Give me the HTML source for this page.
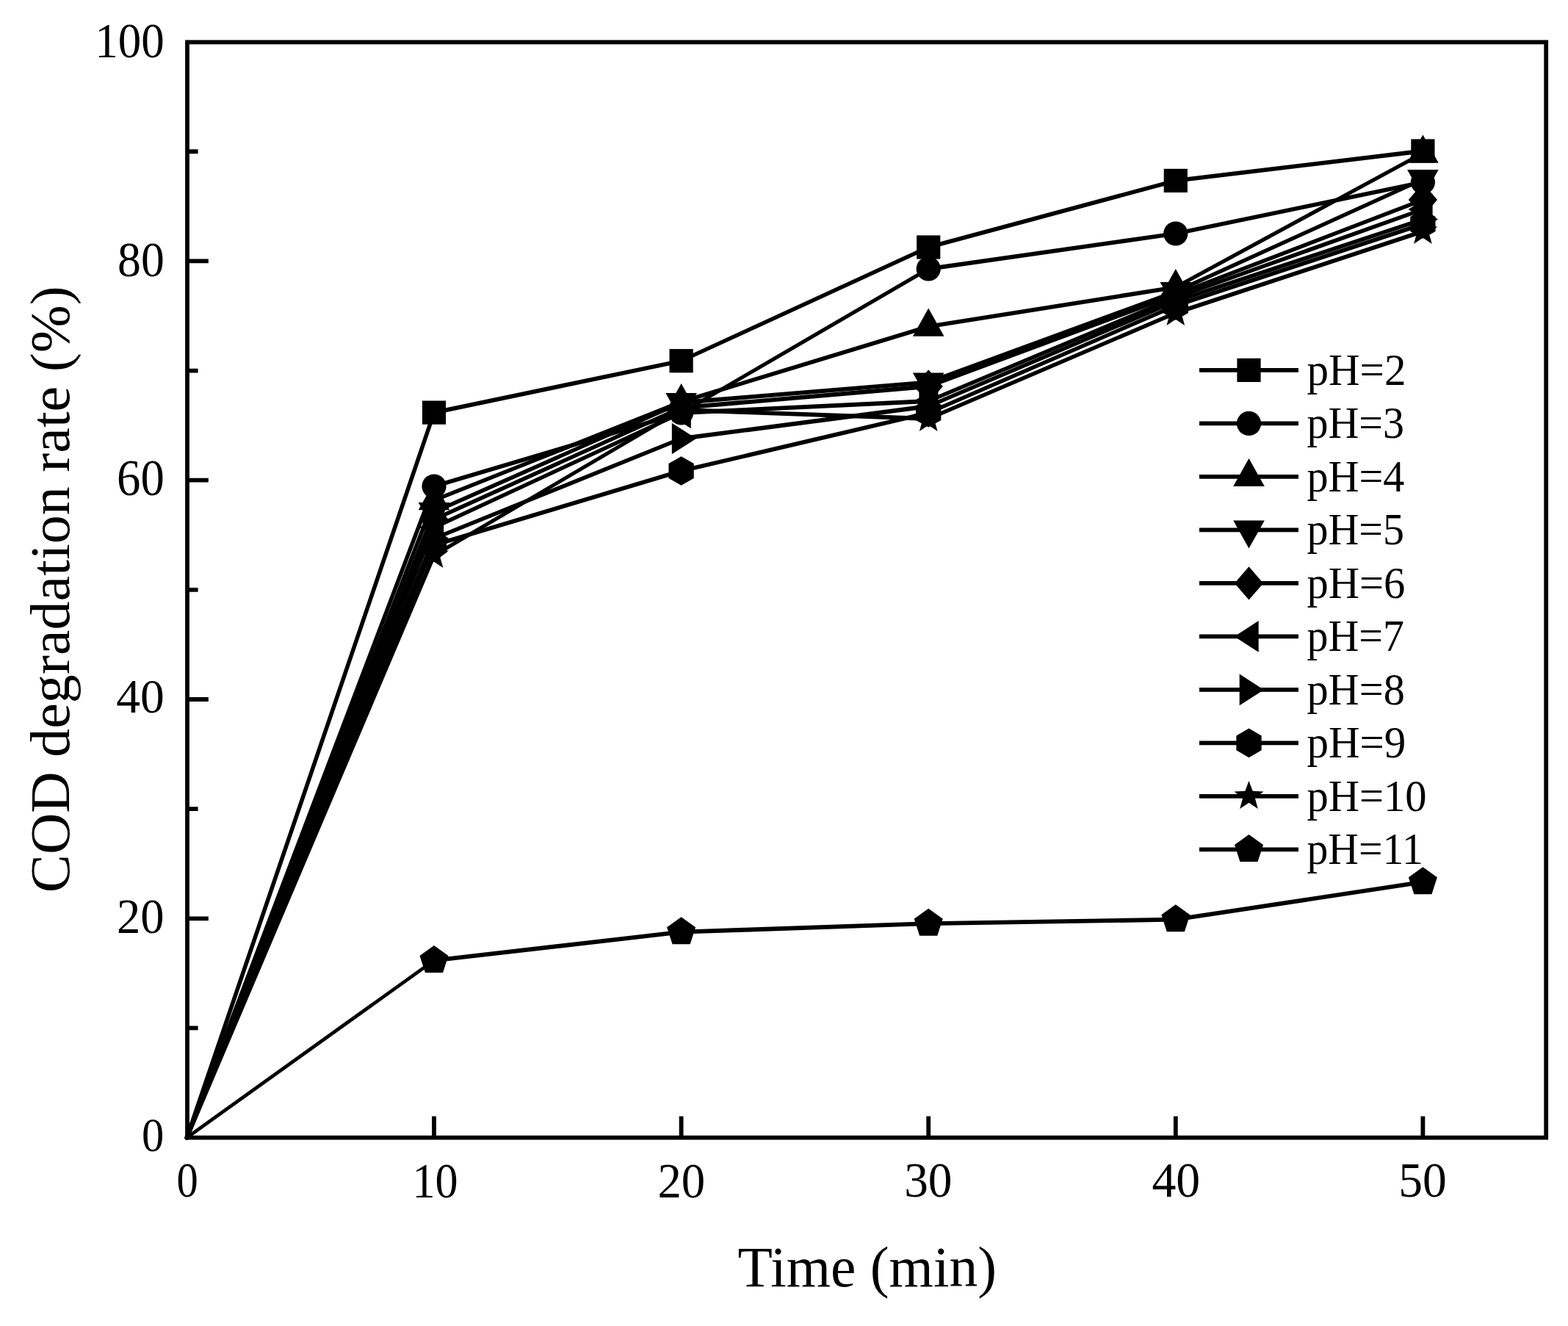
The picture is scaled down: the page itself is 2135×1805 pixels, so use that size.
<!DOCTYPE html><html><head><meta charset="utf-8"><style>html,body{margin:0;padding:0;background:#fff;overflow:hidden;}svg{display:block;filter:blur(0.6px);}text{font-family:"Liberation Serif","Times New Roman",serif;fill:#000;}</style></head><body><svg width="2135" height="1805" viewBox="0 0 2135 1805"><rect width="2135" height="1805" fill="#fff"/>
<g stroke="#000" stroke-linecap="round"><line x1="254.40" y1="1548.60" x2="591.00" y2="561.60" stroke-width="5.54"/><line x1="591.00" y1="561.60" x2="927.60" y2="491.20" stroke-width="5.73"/><line x1="927.60" y1="491.20" x2="1264.20" y2="336.50" stroke-width="5.32"/><line x1="1264.20" y1="336.50" x2="1600.80" y2="245.90" stroke-width="5.65"/><line x1="1600.80" y1="245.90" x2="1937.40" y2="205.50" stroke-width="5.81"/></g>
<g fill="#000"><rect x="574.90" y="545.50" width="32.20" height="32.20"/><rect x="911.50" y="475.10" width="32.20" height="32.20"/><rect x="1248.10" y="320.40" width="32.20" height="32.20"/><rect x="1584.70" y="229.80" width="32.20" height="32.20"/><rect x="1921.30" y="189.40" width="32.20" height="32.20"/></g>
<g stroke="#000" stroke-linecap="round"><line x1="254.40" y1="1548.60" x2="591.00" y2="662.00" stroke-width="5.47"/><line x1="591.00" y1="662.00" x2="927.60" y2="562.00" stroke-width="5.61"/><line x1="927.60" y1="562.00" x2="1264.20" y2="366.00" stroke-width="5.06"/><line x1="1264.20" y1="366.00" x2="1600.80" y2="318.00" stroke-width="5.79"/><line x1="1600.80" y1="318.00" x2="1937.40" y2="248.00" stroke-width="5.73"/></g>
<g fill="#000"><circle cx="591.00" cy="662.00" r="16.6"/><circle cx="927.60" cy="562.00" r="16.6"/><circle cx="1264.20" cy="366.00" r="16.6"/><circle cx="1600.80" cy="318.00" r="16.6"/><circle cx="1937.40" cy="248.00" r="16.6"/></g>
<g stroke="#000" stroke-linecap="round"><line x1="254.40" y1="1548.60" x2="591.00" y2="681.00" stroke-width="5.45"/><line x1="591.00" y1="681.00" x2="927.60" y2="547.00" stroke-width="5.44"/><line x1="927.60" y1="547.00" x2="1264.20" y2="444.50" stroke-width="5.60"/><line x1="1264.20" y1="444.50" x2="1600.80" y2="391.00" stroke-width="5.78"/><line x1="1600.80" y1="391.00" x2="1937.40" y2="208.50" stroke-width="5.14"/></g>
<g fill="#000"><polygon points="591.00,656.00 612.30,694.20 569.70,694.20"/><polygon points="927.60,522.00 948.90,560.20 906.30,560.20"/><polygon points="1264.20,419.50 1285.50,457.70 1242.90,457.70"/><polygon points="1600.80,366.00 1622.10,404.20 1579.50,404.20"/><polygon points="1937.40,183.50 1958.70,221.70 1916.10,221.70"/></g>
<g stroke="#000" stroke-linecap="round"><line x1="254.40" y1="1548.60" x2="591.00" y2="697.00" stroke-width="5.44"/><line x1="591.00" y1="697.00" x2="927.60" y2="548.00" stroke-width="5.35"/><line x1="927.60" y1="548.00" x2="1264.20" y2="520.40" stroke-width="5.83"/><line x1="1264.20" y1="520.40" x2="1600.80" y2="397.00" stroke-width="5.49"/><line x1="1600.80" y1="397.00" x2="1937.40" y2="244.00" stroke-width="5.33"/></g>
<g fill="#000"><polygon points="591.00,722.00 612.30,684.00 569.70,684.00"/><polygon points="927.60,573.00 948.90,535.00 906.30,535.00"/><polygon points="1264.20,545.40 1285.50,507.40 1242.90,507.40"/><polygon points="1600.80,422.00 1622.10,384.00 1579.50,384.00"/><polygon points="1937.40,269.00 1958.70,231.00 1916.10,231.00"/></g>
<g stroke="#000" stroke-linecap="round"><line x1="254.40" y1="1548.60" x2="591.00" y2="707.00" stroke-width="5.43"/><line x1="591.00" y1="707.00" x2="927.60" y2="555.00" stroke-width="5.33"/><line x1="927.60" y1="555.00" x2="1264.20" y2="526.00" stroke-width="5.83"/><line x1="1264.20" y1="526.00" x2="1600.80" y2="401.00" stroke-width="5.48"/><line x1="1600.80" y1="401.00" x2="1937.40" y2="272.00" stroke-width="5.46"/></g>
<g fill="#000"><polygon points="591.00,684.30 610.60,707.00 591.00,729.70 571.40,707.00"/><polygon points="927.60,532.30 947.20,555.00 927.60,577.70 908.00,555.00"/><polygon points="1264.20,503.30 1283.80,526.00 1264.20,548.70 1244.60,526.00"/><polygon points="1600.80,378.30 1620.40,401.00 1600.80,423.70 1581.20,401.00"/><polygon points="1937.40,249.30 1957.00,272.00 1937.40,294.70 1917.80,272.00"/></g>
<g stroke="#000" stroke-linecap="round"><line x1="254.40" y1="1548.60" x2="591.00" y2="718.00" stroke-width="5.42"/><line x1="591.00" y1="718.00" x2="927.60" y2="562.00" stroke-width="5.31"/><line x1="927.60" y1="562.00" x2="1264.20" y2="546.00" stroke-width="5.84"/><line x1="1264.20" y1="546.00" x2="1600.80" y2="405.00" stroke-width="5.40"/><line x1="1600.80" y1="405.00" x2="1937.40" y2="285.00" stroke-width="5.51"/></g>
<g fill="#000"><polygon points="571.20,718.00 604.20,696.70 604.20,739.30"/><polygon points="907.80,562.00 940.80,540.70 940.80,583.30"/><polygon points="1244.40,546.00 1277.40,524.70 1277.40,567.30"/><polygon points="1581.00,405.00 1614.00,383.70 1614.00,426.30"/><polygon points="1917.60,285.00 1950.60,263.70 1950.60,306.30"/></g>
<g stroke="#000" stroke-linecap="round"><line x1="254.40" y1="1548.60" x2="591.00" y2="733.00" stroke-width="5.41"/><line x1="591.00" y1="733.00" x2="927.60" y2="597.00" stroke-width="5.42"/><line x1="927.60" y1="597.00" x2="1264.20" y2="553.00" stroke-width="5.80"/><line x1="1264.20" y1="553.00" x2="1600.80" y2="410.00" stroke-width="5.38"/><line x1="1600.80" y1="410.00" x2="1937.40" y2="298.60" stroke-width="5.55"/></g>
<g fill="#000"><polygon points="611.50,733.00 578.20,711.70 578.20,754.30"/><polygon points="948.10,597.00 914.80,575.70 914.80,618.30"/><polygon points="1284.70,553.00 1251.40,531.70 1251.40,574.30"/><polygon points="1621.30,410.00 1588.00,388.70 1588.00,431.30"/><polygon points="1957.90,298.60 1924.60,277.30 1924.60,319.90"/></g>
<g stroke="#000" stroke-linecap="round"><line x1="254.40" y1="1548.60" x2="591.00" y2="742.00" stroke-width="5.40"/><line x1="591.00" y1="742.00" x2="927.60" y2="641.00" stroke-width="5.60"/><line x1="927.60" y1="641.00" x2="1264.20" y2="562.00" stroke-width="5.70"/><line x1="1264.20" y1="562.00" x2="1600.80" y2="416.00" stroke-width="5.37"/><line x1="1600.80" y1="416.00" x2="1937.40" y2="305.00" stroke-width="5.56"/></g>
<g fill="#000"><polygon points="591.00,722.20 608.15,732.10 608.15,751.90 591.00,761.80 573.85,751.90 573.85,732.10"/><polygon points="927.60,621.20 944.75,631.10 944.75,650.90 927.60,660.80 910.45,650.90 910.45,631.10"/><polygon points="1264.20,542.20 1281.35,552.10 1281.35,571.90 1264.20,581.80 1247.05,571.90 1247.05,552.10"/><polygon points="1600.80,396.20 1617.95,406.10 1617.95,425.90 1600.80,435.80 1583.65,425.90 1583.65,406.10"/><polygon points="1937.40,285.20 1954.55,295.10 1954.55,314.90 1937.40,324.80 1920.25,314.90 1920.25,295.10"/></g>
<g stroke="#000" stroke-linecap="round"><line x1="254.40" y1="1548.60" x2="591.00" y2="756.00" stroke-width="5.38"/><line x1="591.00" y1="756.00" x2="927.60" y2="558.00" stroke-width="5.04"/><line x1="927.60" y1="558.00" x2="1264.20" y2="570.00" stroke-width="5.85"/><line x1="1264.20" y1="570.00" x2="1600.80" y2="426.00" stroke-width="5.38"/><line x1="1600.80" y1="426.00" x2="1937.40" y2="315.00" stroke-width="5.56"/></g>
<g fill="#000"><polygon points="591.00,735.00 596.17,748.88 610.97,749.51 599.37,758.72 603.34,772.99 591.00,764.80 578.66,772.99 582.63,758.72 571.03,749.51 585.83,748.88"/><polygon points="927.60,537.00 932.77,550.88 947.57,551.51 935.97,560.72 939.94,574.99 927.60,566.80 915.26,574.99 919.23,560.72 907.63,551.51 922.43,550.88"/><polygon points="1264.20,549.00 1269.37,562.88 1284.17,563.51 1272.57,572.72 1276.54,586.99 1264.20,578.80 1251.86,586.99 1255.83,572.72 1244.23,563.51 1259.03,562.88"/><polygon points="1600.80,405.00 1605.97,418.88 1620.77,419.51 1609.17,428.72 1613.14,442.99 1600.80,434.80 1588.46,442.99 1592.43,428.72 1580.83,419.51 1595.63,418.88"/><polygon points="1937.40,294.00 1942.57,307.88 1957.37,308.51 1945.77,317.72 1949.74,331.99 1937.40,323.80 1925.06,331.99 1929.03,317.72 1917.43,308.51 1932.23,307.88"/></g>
<g stroke="#000" stroke-linecap="round"><line x1="254.40" y1="1548.60" x2="591.00" y2="1307.40" stroke-width="4.76"/><line x1="591.00" y1="1307.40" x2="927.60" y2="1268.70" stroke-width="5.81"/><line x1="927.60" y1="1268.70" x2="1264.20" y2="1257.20" stroke-width="5.85"/><line x1="1264.20" y1="1257.20" x2="1600.80" y2="1251.70" stroke-width="5.85"/><line x1="1600.80" y1="1251.70" x2="1937.40" y2="1200.70" stroke-width="5.78"/></g>
<g fill="#000"><polygon points="591.00,1286.90 610.50,1301.07 603.05,1323.98 578.95,1323.98 571.50,1301.07"/><polygon points="927.60,1248.20 947.10,1262.37 939.65,1285.28 915.55,1285.28 908.10,1262.37"/><polygon points="1264.20,1236.70 1283.70,1250.87 1276.25,1273.78 1252.15,1273.78 1244.70,1250.87"/><polygon points="1600.80,1231.20 1620.30,1245.37 1612.85,1268.28 1588.75,1268.28 1581.30,1245.37"/><polygon points="1937.40,1180.20 1956.90,1194.37 1949.45,1217.28 1925.35,1217.28 1917.90,1194.37"/></g>
<rect x="255.0" y="57.4" width="1850.2" height="1491.2" fill="none" stroke="#000" stroke-width="5.8"/>
<path d="M255.0,1399.45 H269.6 M255.0,1250.30 H283.8 M255.0,1101.15 H269.6 M255.0,952.00 H283.8 M255.0,802.85 H269.6 M255.0,653.70 H283.8 M255.0,504.55 H269.6 M255.0,355.40 H283.8 M255.0,206.25 H269.6 M591.00,1548.6 V1519.6 M927.60,1548.6 V1519.6 M1264.20,1548.6 V1519.6 M1600.80,1548.6 V1519.6 M1937.40,1548.6 V1519.6" stroke="#000" stroke-width="5.8" fill="none"/>
<path d="M1633,503.90 H1768" stroke="#000" stroke-width="5.8"/>
<g fill="#000"><rect x="1684.40" y="487.80" width="32.20" height="32.20"/></g>
<path d="M1633,576.40 H1768" stroke="#000" stroke-width="5.8"/>
<g fill="#000"><circle cx="1700.50" cy="576.40" r="16.6"/></g>
<path d="M1633,648.90 H1768" stroke="#000" stroke-width="5.8"/>
<g fill="#000"><polygon points="1700.50,623.90 1721.80,662.10 1679.20,662.10"/></g>
<path d="M1633,721.40 H1768" stroke="#000" stroke-width="5.8"/>
<g fill="#000"><polygon points="1700.50,746.40 1721.80,708.40 1679.20,708.40"/></g>
<path d="M1633,793.90 H1768" stroke="#000" stroke-width="5.8"/>
<g fill="#000"><polygon points="1700.50,771.20 1720.10,793.90 1700.50,816.60 1680.90,793.90"/></g>
<path d="M1633,866.40 H1768" stroke="#000" stroke-width="5.8"/>
<g fill="#000"><polygon points="1680.70,866.40 1713.70,845.10 1713.70,887.70"/></g>
<path d="M1633,938.90 H1768" stroke="#000" stroke-width="5.8"/>
<g fill="#000"><polygon points="1721.00,938.90 1687.70,917.60 1687.70,960.20"/></g>
<path d="M1633,1011.40 H1768" stroke="#000" stroke-width="5.8"/>
<g fill="#000"><polygon points="1700.50,991.60 1717.65,1001.50 1717.65,1021.30 1700.50,1031.20 1683.35,1021.30 1683.35,1001.50"/></g>
<path d="M1633,1083.90 H1768" stroke="#000" stroke-width="5.8"/>
<g fill="#000"><polygon points="1700.50,1062.90 1705.67,1076.78 1720.47,1077.41 1708.87,1086.62 1712.84,1100.89 1700.50,1092.70 1688.16,1100.89 1692.13,1086.62 1680.53,1077.41 1695.33,1076.78"/></g>
<path d="M1633,1156.40 H1768" stroke="#000" stroke-width="5.8"/>
<g fill="#000"><polygon points="1700.50,1135.90 1720.00,1150.07 1712.55,1172.98 1688.45,1172.98 1681.00,1150.07"/></g>
<g transform="matrix(0.98409 0 0 1.05476 4.316 -3.717)"><text x="223" y="77.1" font-size="64" text-anchor="end">100</text></g>
<g transform="matrix(0.99500 0 0 1.06905 1.905 -25.693)"><text x="223" y="375.4" font-size="64" text-anchor="end">80</text></g>
<g transform="matrix(1.01186 0 0 1.10238 -1.822 -68.205)"><text x="223" y="673.7" font-size="64" text-anchor="end">60</text></g>
<g transform="matrix(1.02459 0 0 1.02619 -4.634 -26.957)"><text x="223" y="972.0" font-size="64" text-anchor="end">40</text></g>
<g transform="matrix(1.00847 0 0 1.05238 -1.273 -66.924)"><text x="223" y="1270.3" font-size="64" text-anchor="end">20</text></g>
<g transform="matrix(0.94643 0 0 1.03571 12.339 -57.536)"><text x="223" y="1568.6" font-size="64" text-anchor="end">0</text></g>
<g transform="matrix(0.91481 0 0 1.05238 22.530 -84.929)"><text x="254.4" y="1629" font-size="64" text-anchor="middle">0</text></g>
<g transform="matrix(0.97143 0 0 1.05714 18.443 -92.486)"><text x="591.0" y="1629" font-size="64" text-anchor="middle">10</text></g>
<g transform="matrix(1.01186 0 0 1.06190 -10.754 -100.143)"><text x="927.6" y="1629" font-size="64" text-anchor="middle">20</text></g>
<g transform="matrix(1.02203 0 0 1.05238 -28.212 -84.929)"><text x="1264.2" y="1629" font-size="64" text-anchor="middle">30</text></g>
<g transform="matrix(1.02833 0 0 1.05238 -44.783 -84.929)"><text x="1600.8" y="1629" font-size="64" text-anchor="middle">40</text></g>
<g transform="matrix(1.02586 0 0 1.05238 -50.371 -84.929)"><text x="1937.4" y="1629" font-size="64" text-anchor="middle">50</text></g>
<g transform="matrix(0.99371 0 0 1.01286 8.211 -23.531)"><text x="1180" y="1752" font-size="78" text-anchor="middle">Time (min)</text></g>
<g transform="matrix(0.97324 0 0 1.00098 1.024 -1.185)"><text transform="translate(96,802.6) rotate(-90)" x="0" y="0" font-size="78" text-anchor="middle">COD degradation rate (%)</text></g>
<g transform="matrix(0.96815 0 0 0.99057 57.096 4.566)"><text x="1779" y="524.4" font-size="61">pH=2</text></g>
<g transform="matrix(0.95147 0 0 0.99057 86.782 4.755)"><text x="1779" y="596.9" font-size="61">pH=3</text></g>
<g transform="matrix(0.95362 0 0 0.99057 82.951 5.934)"><text x="1779" y="669.4" font-size="61">pH=4</text></g>
<g transform="matrix(0.95147 0 0 0.99057 86.782 6.123)"><text x="1779" y="741.9" font-size="61">pH=5</text></g>
<g transform="matrix(0.96058 0 0 0.99057 70.561 7.302)"><text x="1779" y="814.4" font-size="61">pH=6</text></g>
<g transform="matrix(0.94964 0 0 0.99057 90.050 7.491)"><text x="1779" y="886.9" font-size="61">pH=7</text></g>
<g transform="matrix(0.95662 0 0 0.99057 77.621 8.670)"><text x="1779" y="959.4" font-size="61">pH=8</text></g>
<g transform="matrix(0.96765 0 0 0.99057 57.988 8.858)"><text x="1779" y="1031.9" font-size="61">pH=9</text></g>
<g transform="matrix(0.95988 0 0 0.99057 71.813 10.038)"><text x="1779" y="1104.4" font-size="61">pH=10</text></g>
<g transform="matrix(0.94540 0 0 0.99057 97.590 10.226)"><text x="1779" y="1176.9" font-size="61">pH=11</text></g>
</svg></body></html>
